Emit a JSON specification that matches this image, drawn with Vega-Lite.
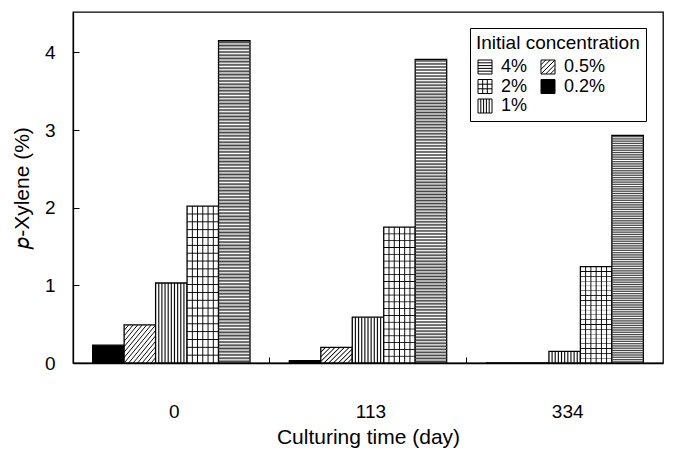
{
  "$schema": "https://vega.github.io/schema/vega-lite/v6.json",
  "width": 590,
  "height": 351,
  "autosize": "none",
  "padding": {"left": 73, "top": 12, "right": 13, "bottom": 94},
  "config": {
    "font": "Liberation Sans",
    "view": {"stroke": "black", "strokeWidth": 1.3},
    "axis": {"domainColor": "black", "domainWidth": 1.3, "tickColor": "black", "tickWidth": 1, "labelColor": "black", "titleColor": "black", "titleFontWeight": "normal", "grid": false}
  },
  "data": {"values": [
    {"day": "0", "conc": "0.2%", "value": 0.23},
    {"day": "0", "conc": "0.5%", "value": 0.49},
    {"day": "0", "conc": "1%", "value": 1.03},
    {"day": "0", "conc": "2%", "value": 2.02},
    {"day": "0", "conc": "4%", "value": 4.15},
    {"day": "113", "conc": "0.2%", "value": 0.03},
    {"day": "113", "conc": "0.5%", "value": 0.2},
    {"day": "113", "conc": "1%", "value": 0.59},
    {"day": "113", "conc": "2%", "value": 1.75},
    {"day": "113", "conc": "4%", "value": 3.91},
    {"day": "334", "conc": "0.2%", "value": 0},
    {"day": "334", "conc": "0.5%", "value": 0},
    {"day": "334", "conc": "1%", "value": 0.15},
    {"day": "334", "conc": "2%", "value": 1.24},
    {"day": "334", "conc": "4%", "value": 2.93}
  ]},
  "encoding": {
    "x": {"field": "day", "type": "nominal", "sort": ["0", "113", "334"],
      "scale": {"paddingInner": 0, "paddingOuter": 0},
      "axis": {"title": "Culturing time (day)", "labelAngle": 0, "bandPosition": 0, "labelOffset": 3, "tickSize": -6, "labelPadding": 45, "labelFontSize": 19, "titleFontSize": 21, "titlePadding": 5}},
    "xOffset": {"field": "conc", "type": "nominal", "scale": {"domain": ["0.2%", "0.5%", "1%", "2%", "4%"], "paddingInner": 0, "paddingOuter": 0.625}},
    "y": {"field": "value", "type": "quantitative", "scale": {"domain": [0, 4.52], "nice": false},
      "axis": {"title": "𝑝-Xylene (%)", "values": [0, 1, 2, 3, 4], "format": "d", "tickSize": -6, "labelPadding": 24, "labelFontSize": 19, "titleFontSize": 21, "titlePadding": 12}}
  },
  "layer": [
    {
      "mark": {"type": "bar", "stroke": "black", "strokeWidth": 1.3},
      "encoding": {
        "fill": {"field": "conc", "type": "nominal",
          "scale": {"domain": ["4%", "2%", "1%", "0.5%", "0.2%"], "range": ["#ffffff", "#ffffff", "#ffffff", "#ffffff", "#000000"]},
          "legend": {
            "title": "Initial concentration",
            "orient": "none", "legendX": 397, "legendY": 16,
            "values": ["4%", "2%", "1%", "0.5%", "0.2%"],
            "columns": 2, "columnPadding": 11, "rowPadding": 1.5,
            "symbolSize": 196, "symbolStrokeColor": "black", "symbolStrokeWidth": 1,
            "labelFontSize": 18, "labelColor": "black", "labelOffset": 7,
            "titleFontSize": 19, "titleFontWeight": "normal", "titleColor": "black", "titlePadding": 5,
            "strokeColor": "black", "fillColor": "white", "padding": 6,
            "encode": {"symbols": {"update": {
              "shape": {"signal": "datum.value === '4%' ? 'M-1,-1H1V1H-1Z M-1,-0.6H1 M-1,-0.2H1 M-1,0.2H1 M-1,0.6H1' : datum.value === '2%' ? 'M-1,-1H1V1H-1Z M-1,-0.33H1 M-1,0.33H1 M-0.33,-1V1 M0.33,-1V1' : datum.value === '1%' ? 'M-1,-1H1V1H-1Z M-0.6,-1V1 M-0.2,-1V1 M0.2,-1V1 M0.6,-1V1' : datum.value === '0.5%' ? 'M-1,-1H1V1H-1Z M-1,-0.33L-0.33,-1 M-1,0.33L0.33,-1 M-1,1L1,-1 M-0.33,1L1,-0.33 M0.33,1L1,0.33' : 'square'"},
              "fill": {"signal": "datum.value === '0.2%' ? 'black' : 'white'"},
              "stroke": {"value": "black"},
              "strokeWidth": {"value": 1},
              "opacity": {"value": 1}
            }}}
          }
        }
      }
    },
    {
      "transform": [{"filter": "datum.conc === '4%'"}],
      "mark": {"type": "bar", "strokeWidth": 0, "fill": {"gradient": "linear", "x1": 0, "y1": 0, "x2": 0, "y2": 1, "stops": [
        {"offset":0,"color":"rgba(0,0,0,0)"},{"offset":0.005,"color":"#444"},{"offset":0.01,"color":"rgba(0,0,0,0)"},{"offset":0.015,"color":"#444"},
        {"offset":0.02,"color":"rgba(0,0,0,0)"},{"offset":0.025,"color":"#444"},{"offset":0.03,"color":"rgba(0,0,0,0)"},{"offset":0.035,"color":"#444"},
        {"offset":0.04,"color":"rgba(0,0,0,0)"},{"offset":0.045,"color":"#444"},{"offset":0.05,"color":"rgba(0,0,0,0)"},{"offset":0.055,"color":"#444"},
        {"offset":0.06,"color":"rgba(0,0,0,0)"},{"offset":0.065,"color":"#444"},{"offset":0.07,"color":"rgba(0,0,0,0)"},{"offset":0.075,"color":"#444"},
        {"offset":0.08,"color":"rgba(0,0,0,0)"},{"offset":0.085,"color":"#444"},{"offset":0.09,"color":"rgba(0,0,0,0)"},{"offset":0.095,"color":"#444"},
        {"offset":0.1,"color":"rgba(0,0,0,0)"},{"offset":0.105,"color":"#444"},{"offset":0.11,"color":"rgba(0,0,0,0)"},{"offset":0.115,"color":"#444"},
        {"offset":0.12,"color":"rgba(0,0,0,0)"},{"offset":0.125,"color":"#444"},{"offset":0.13,"color":"rgba(0,0,0,0)"},{"offset":0.135,"color":"#444"},
        {"offset":0.14,"color":"rgba(0,0,0,0)"},{"offset":0.145,"color":"#444"},{"offset":0.15,"color":"rgba(0,0,0,0)"},{"offset":0.155,"color":"#444"},
        {"offset":0.16,"color":"rgba(0,0,0,0)"},{"offset":0.165,"color":"#444"},{"offset":0.17,"color":"rgba(0,0,0,0)"},{"offset":0.175,"color":"#444"},
        {"offset":0.18,"color":"rgba(0,0,0,0)"},{"offset":0.185,"color":"#444"},{"offset":0.19,"color":"rgba(0,0,0,0)"},{"offset":0.195,"color":"#444"},
        {"offset":0.2,"color":"rgba(0,0,0,0)"},{"offset":0.205,"color":"#444"},{"offset":0.21,"color":"rgba(0,0,0,0)"},{"offset":0.215,"color":"#444"},
        {"offset":0.22,"color":"rgba(0,0,0,0)"},{"offset":0.225,"color":"#444"},{"offset":0.23,"color":"rgba(0,0,0,0)"},{"offset":0.235,"color":"#444"},
        {"offset":0.24,"color":"rgba(0,0,0,0)"},{"offset":0.245,"color":"#444"},{"offset":0.25,"color":"rgba(0,0,0,0)"},{"offset":0.255,"color":"#444"},
        {"offset":0.26,"color":"rgba(0,0,0,0)"},{"offset":0.265,"color":"#444"},{"offset":0.27,"color":"rgba(0,0,0,0)"},{"offset":0.275,"color":"#444"},
        {"offset":0.28,"color":"rgba(0,0,0,0)"},{"offset":0.285,"color":"#444"},{"offset":0.29,"color":"rgba(0,0,0,0)"},{"offset":0.295,"color":"#444"},
        {"offset":0.3,"color":"rgba(0,0,0,0)"},{"offset":0.305,"color":"#444"},{"offset":0.31,"color":"rgba(0,0,0,0)"},{"offset":0.315,"color":"#444"},
        {"offset":0.32,"color":"rgba(0,0,0,0)"},{"offset":0.325,"color":"#444"},{"offset":0.33,"color":"rgba(0,0,0,0)"},{"offset":0.335,"color":"#444"},
        {"offset":0.34,"color":"rgba(0,0,0,0)"},{"offset":0.345,"color":"#444"},{"offset":0.35,"color":"rgba(0,0,0,0)"},{"offset":0.355,"color":"#444"},
        {"offset":0.36,"color":"rgba(0,0,0,0)"},{"offset":0.365,"color":"#444"},{"offset":0.37,"color":"rgba(0,0,0,0)"},{"offset":0.375,"color":"#444"},
        {"offset":0.38,"color":"rgba(0,0,0,0)"},{"offset":0.385,"color":"#444"},{"offset":0.39,"color":"rgba(0,0,0,0)"},{"offset":0.395,"color":"#444"},
        {"offset":0.4,"color":"rgba(0,0,0,0)"},{"offset":0.405,"color":"#444"},{"offset":0.41,"color":"rgba(0,0,0,0)"},{"offset":0.415,"color":"#444"},
        {"offset":0.42,"color":"rgba(0,0,0,0)"},{"offset":0.425,"color":"#444"},{"offset":0.43,"color":"rgba(0,0,0,0)"},{"offset":0.435,"color":"#444"},
        {"offset":0.44,"color":"rgba(0,0,0,0)"},{"offset":0.445,"color":"#444"},{"offset":0.45,"color":"rgba(0,0,0,0)"},{"offset":0.455,"color":"#444"},
        {"offset":0.46,"color":"rgba(0,0,0,0)"},{"offset":0.465,"color":"#444"},{"offset":0.47,"color":"rgba(0,0,0,0)"},{"offset":0.475,"color":"#444"},
        {"offset":0.48,"color":"rgba(0,0,0,0)"},{"offset":0.485,"color":"#444"},{"offset":0.49,"color":"rgba(0,0,0,0)"},{"offset":0.495,"color":"#444"},
        {"offset":0.5,"color":"rgba(0,0,0,0)"},{"offset":0.505,"color":"#444"},{"offset":0.51,"color":"rgba(0,0,0,0)"},{"offset":0.515,"color":"#444"},
        {"offset":0.52,"color":"rgba(0,0,0,0)"},{"offset":0.525,"color":"#444"},{"offset":0.53,"color":"rgba(0,0,0,0)"},{"offset":0.535,"color":"#444"},
        {"offset":0.54,"color":"rgba(0,0,0,0)"},{"offset":0.545,"color":"#444"},{"offset":0.55,"color":"rgba(0,0,0,0)"},{"offset":0.555,"color":"#444"},
        {"offset":0.56,"color":"rgba(0,0,0,0)"},{"offset":0.565,"color":"#444"},{"offset":0.57,"color":"rgba(0,0,0,0)"},{"offset":0.575,"color":"#444"},
        {"offset":0.58,"color":"rgba(0,0,0,0)"},{"offset":0.585,"color":"#444"},{"offset":0.59,"color":"rgba(0,0,0,0)"},{"offset":0.595,"color":"#444"},
        {"offset":0.6,"color":"rgba(0,0,0,0)"},{"offset":0.605,"color":"#444"},{"offset":0.61,"color":"rgba(0,0,0,0)"},{"offset":0.615,"color":"#444"},
        {"offset":0.62,"color":"rgba(0,0,0,0)"},{"offset":0.625,"color":"#444"},{"offset":0.63,"color":"rgba(0,0,0,0)"},{"offset":0.635,"color":"#444"},
        {"offset":0.64,"color":"rgba(0,0,0,0)"},{"offset":0.645,"color":"#444"},{"offset":0.65,"color":"rgba(0,0,0,0)"},{"offset":0.655,"color":"#444"},
        {"offset":0.66,"color":"rgba(0,0,0,0)"},{"offset":0.665,"color":"#444"},{"offset":0.67,"color":"rgba(0,0,0,0)"},{"offset":0.675,"color":"#444"},
        {"offset":0.68,"color":"rgba(0,0,0,0)"},{"offset":0.685,"color":"#444"},{"offset":0.69,"color":"rgba(0,0,0,0)"},{"offset":0.695,"color":"#444"},
        {"offset":0.7,"color":"rgba(0,0,0,0)"},{"offset":0.705,"color":"#444"},{"offset":0.71,"color":"rgba(0,0,0,0)"},{"offset":0.715,"color":"#444"},
        {"offset":0.72,"color":"rgba(0,0,0,0)"},{"offset":0.725,"color":"#444"},{"offset":0.73,"color":"rgba(0,0,0,0)"},{"offset":0.735,"color":"#444"},
        {"offset":0.74,"color":"rgba(0,0,0,0)"},{"offset":0.745,"color":"#444"},{"offset":0.75,"color":"rgba(0,0,0,0)"},{"offset":0.755,"color":"#444"},
        {"offset":0.76,"color":"rgba(0,0,0,0)"},{"offset":0.765,"color":"#444"},{"offset":0.77,"color":"rgba(0,0,0,0)"},{"offset":0.775,"color":"#444"},
        {"offset":0.78,"color":"rgba(0,0,0,0)"},{"offset":0.785,"color":"#444"},{"offset":0.79,"color":"rgba(0,0,0,0)"},{"offset":0.795,"color":"#444"},
        {"offset":0.8,"color":"rgba(0,0,0,0)"},{"offset":0.805,"color":"#444"},{"offset":0.81,"color":"rgba(0,0,0,0)"},{"offset":0.815,"color":"#444"},
        {"offset":0.82,"color":"rgba(0,0,0,0)"},{"offset":0.825,"color":"#444"},{"offset":0.83,"color":"rgba(0,0,0,0)"},{"offset":0.835,"color":"#444"},
        {"offset":0.84,"color":"rgba(0,0,0,0)"},{"offset":0.845,"color":"#444"},{"offset":0.85,"color":"rgba(0,0,0,0)"},{"offset":0.855,"color":"#444"},
        {"offset":0.86,"color":"rgba(0,0,0,0)"},{"offset":0.865,"color":"#444"},{"offset":0.87,"color":"rgba(0,0,0,0)"},{"offset":0.875,"color":"#444"},
        {"offset":0.88,"color":"rgba(0,0,0,0)"},{"offset":0.885,"color":"#444"},{"offset":0.89,"color":"rgba(0,0,0,0)"},{"offset":0.895,"color":"#444"},
        {"offset":0.9,"color":"rgba(0,0,0,0)"},{"offset":0.905,"color":"#444"},{"offset":0.91,"color":"rgba(0,0,0,0)"},{"offset":0.915,"color":"#444"},
        {"offset":0.92,"color":"rgba(0,0,0,0)"},{"offset":0.925,"color":"#444"},{"offset":0.93,"color":"rgba(0,0,0,0)"},{"offset":0.935,"color":"#444"},
        {"offset":0.94,"color":"rgba(0,0,0,0)"},{"offset":0.945,"color":"#444"},{"offset":0.95,"color":"rgba(0,0,0,0)"},{"offset":0.955,"color":"#444"},
        {"offset":0.96,"color":"rgba(0,0,0,0)"},{"offset":0.965,"color":"#444"},{"offset":0.97,"color":"rgba(0,0,0,0)"},{"offset":0.975,"color":"#444"},
        {"offset":0.98,"color":"rgba(0,0,0,0)"},{"offset":0.985,"color":"#444"},{"offset":0.99,"color":"rgba(0,0,0,0)"},{"offset":0.995,"color":"#444"},
        {"offset":1,"color":"rgba(0,0,0,0)"}
      ]}}
    },
    {
      "transform": [{"filter": "datum.conc === '2%'"}],
      "mark": {"type": "bar", "strokeWidth": 0, "fill": {"gradient": "linear", "x1": 0, "y1": 0, "x2": 0, "y2": 1, "stops": [
        {"offset":0,"color":"rgba(0,0,0,0)"},
        {"offset":0.044,"color":"rgba(0,0,0,0)"},{"offset":0.05,"color":"#000"},{"offset":0.056,"color":"rgba(0,0,0,0)"},
        {"offset":0.094,"color":"rgba(0,0,0,0)"},{"offset":0.1,"color":"#000"},{"offset":0.106,"color":"rgba(0,0,0,0)"},
        {"offset":0.144,"color":"rgba(0,0,0,0)"},{"offset":0.15,"color":"#000"},{"offset":0.156,"color":"rgba(0,0,0,0)"},
        {"offset":0.194,"color":"rgba(0,0,0,0)"},{"offset":0.2,"color":"#000"},{"offset":0.206,"color":"rgba(0,0,0,0)"},
        {"offset":0.244,"color":"rgba(0,0,0,0)"},{"offset":0.25,"color":"#000"},{"offset":0.256,"color":"rgba(0,0,0,0)"},
        {"offset":0.294,"color":"rgba(0,0,0,0)"},{"offset":0.3,"color":"#000"},{"offset":0.306,"color":"rgba(0,0,0,0)"},
        {"offset":0.344,"color":"rgba(0,0,0,0)"},{"offset":0.35,"color":"#000"},{"offset":0.356,"color":"rgba(0,0,0,0)"},
        {"offset":0.394,"color":"rgba(0,0,0,0)"},{"offset":0.4,"color":"#000"},{"offset":0.406,"color":"rgba(0,0,0,0)"},
        {"offset":0.444,"color":"rgba(0,0,0,0)"},{"offset":0.45,"color":"#000"},{"offset":0.456,"color":"rgba(0,0,0,0)"},
        {"offset":0.494,"color":"rgba(0,0,0,0)"},{"offset":0.5,"color":"#000"},{"offset":0.506,"color":"rgba(0,0,0,0)"},
        {"offset":0.544,"color":"rgba(0,0,0,0)"},{"offset":0.55,"color":"#000"},{"offset":0.556,"color":"rgba(0,0,0,0)"},
        {"offset":0.594,"color":"rgba(0,0,0,0)"},{"offset":0.6,"color":"#000"},{"offset":0.606,"color":"rgba(0,0,0,0)"},
        {"offset":0.644,"color":"rgba(0,0,0,0)"},{"offset":0.65,"color":"#000"},{"offset":0.656,"color":"rgba(0,0,0,0)"},
        {"offset":0.694,"color":"rgba(0,0,0,0)"},{"offset":0.7,"color":"#000"},{"offset":0.706,"color":"rgba(0,0,0,0)"},
        {"offset":0.744,"color":"rgba(0,0,0,0)"},{"offset":0.75,"color":"#000"},{"offset":0.756,"color":"rgba(0,0,0,0)"},
        {"offset":0.794,"color":"rgba(0,0,0,0)"},{"offset":0.8,"color":"#000"},{"offset":0.806,"color":"rgba(0,0,0,0)"},
        {"offset":0.844,"color":"rgba(0,0,0,0)"},{"offset":0.85,"color":"#000"},{"offset":0.856,"color":"rgba(0,0,0,0)"},
        {"offset":0.894,"color":"rgba(0,0,0,0)"},{"offset":0.9,"color":"#000"},{"offset":0.906,"color":"rgba(0,0,0,0)"},
        {"offset":0.944,"color":"rgba(0,0,0,0)"},{"offset":0.95,"color":"#000"},{"offset":0.956,"color":"rgba(0,0,0,0)"},
        {"offset":1,"color":"rgba(0,0,0,0)"}
      ]}}
    },
    {
      "transform": [{"filter": "datum.conc === '2%'"}],
      "mark": {"type": "bar", "strokeWidth": 0, "fill": {"gradient": "linear", "x1": 0, "y1": 0, "x2": 1, "y2": 0, "stops": [
        {"offset":0,"color":"rgba(0,0,0,0)"},
        {"offset":0.1367,"color":"rgba(0,0,0,0)"},{"offset":0.1667,"color":"#000"},{"offset":0.1967,"color":"rgba(0,0,0,0)"},
        {"offset":0.3033,"color":"rgba(0,0,0,0)"},{"offset":0.3333,"color":"#000"},{"offset":0.3633,"color":"rgba(0,0,0,0)"},
        {"offset":0.47,"color":"rgba(0,0,0,0)"},{"offset":0.5,"color":"#000"},{"offset":0.53,"color":"rgba(0,0,0,0)"},
        {"offset":0.6367,"color":"rgba(0,0,0,0)"},{"offset":0.6667,"color":"#000"},{"offset":0.6967,"color":"rgba(0,0,0,0)"},
        {"offset":0.8033,"color":"rgba(0,0,0,0)"},{"offset":0.8333,"color":"#000"},{"offset":0.8633,"color":"rgba(0,0,0,0)"},
        {"offset":1,"color":"rgba(0,0,0,0)"}
      ]}}
    },
    {
      "transform": [{"filter": "datum.conc === '1%'"}],
      "mark": {"type": "bar", "strokeWidth": 0, "fill": {"gradient": "linear", "x1": 0, "y1": 0, "x2": 1, "y2": 0, "stops": [
        {"offset":0,"color":"rgba(0,0,0,0)"},
        {"offset":0.065,"color":"rgba(0,0,0,0)"},{"offset":0.1,"color":"#000"},{"offset":0.135,"color":"rgba(0,0,0,0)"},
        {"offset":0.165,"color":"rgba(0,0,0,0)"},{"offset":0.2,"color":"#000"},{"offset":0.235,"color":"rgba(0,0,0,0)"},
        {"offset":0.265,"color":"rgba(0,0,0,0)"},{"offset":0.3,"color":"#000"},{"offset":0.335,"color":"rgba(0,0,0,0)"},
        {"offset":0.365,"color":"rgba(0,0,0,0)"},{"offset":0.4,"color":"#000"},{"offset":0.435,"color":"rgba(0,0,0,0)"},
        {"offset":0.465,"color":"rgba(0,0,0,0)"},{"offset":0.5,"color":"#000"},{"offset":0.535,"color":"rgba(0,0,0,0)"},
        {"offset":0.565,"color":"rgba(0,0,0,0)"},{"offset":0.6,"color":"#000"},{"offset":0.635,"color":"rgba(0,0,0,0)"},
        {"offset":0.665,"color":"rgba(0,0,0,0)"},{"offset":0.7,"color":"#000"},{"offset":0.735,"color":"rgba(0,0,0,0)"},
        {"offset":0.765,"color":"rgba(0,0,0,0)"},{"offset":0.8,"color":"#000"},{"offset":0.835,"color":"rgba(0,0,0,0)"},
        {"offset":0.865,"color":"rgba(0,0,0,0)"},{"offset":0.9,"color":"#000"},{"offset":0.935,"color":"rgba(0,0,0,0)"},
        {"offset":1,"color":"rgba(0,0,0,0)"}
      ]}}
    },
    {
      "transform": [{"filter": "datum.conc === '0.5%' && datum.day === '0'"}],
      "mark": {"type": "bar", "strokeWidth": 0, "fill": {"gradient": "linear", "x1": 0, "y1": 0, "x2": 1, "y2": 1, "stops": [
        {"offset":0,"color":"rgba(0,0,0,0)"},
        {"offset":0.0564,"color":"rgba(0,0,0,0)"},{"offset":0.0714,"color":"#000"},{"offset":0.0864,"color":"rgba(0,0,0,0)"},
        {"offset":0.1279,"color":"rgba(0,0,0,0)"},{"offset":0.1429,"color":"#000"},{"offset":0.1579,"color":"rgba(0,0,0,0)"},
        {"offset":0.1993,"color":"rgba(0,0,0,0)"},{"offset":0.2143,"color":"#000"},{"offset":0.2293,"color":"rgba(0,0,0,0)"},
        {"offset":0.2707,"color":"rgba(0,0,0,0)"},{"offset":0.2857,"color":"#000"},{"offset":0.3007,"color":"rgba(0,0,0,0)"},
        {"offset":0.3421,"color":"rgba(0,0,0,0)"},{"offset":0.3571,"color":"#000"},{"offset":0.3721,"color":"rgba(0,0,0,0)"},
        {"offset":0.4136,"color":"rgba(0,0,0,0)"},{"offset":0.4286,"color":"#000"},{"offset":0.4436,"color":"rgba(0,0,0,0)"},
        {"offset":0.485,"color":"rgba(0,0,0,0)"},{"offset":0.5,"color":"#000"},{"offset":0.515,"color":"rgba(0,0,0,0)"},
        {"offset":0.5564,"color":"rgba(0,0,0,0)"},{"offset":0.5714,"color":"#000"},{"offset":0.5864,"color":"rgba(0,0,0,0)"},
        {"offset":0.6279,"color":"rgba(0,0,0,0)"},{"offset":0.6429,"color":"#000"},{"offset":0.6579,"color":"rgba(0,0,0,0)"},
        {"offset":0.6993,"color":"rgba(0,0,0,0)"},{"offset":0.7143,"color":"#000"},{"offset":0.7293,"color":"rgba(0,0,0,0)"},
        {"offset":0.7707,"color":"rgba(0,0,0,0)"},{"offset":0.7857,"color":"#000"},{"offset":0.8007,"color":"rgba(0,0,0,0)"},
        {"offset":0.8421,"color":"rgba(0,0,0,0)"},{"offset":0.8571,"color":"#000"},{"offset":0.8721,"color":"rgba(0,0,0,0)"},
        {"offset":0.9136,"color":"rgba(0,0,0,0)"},{"offset":0.9286,"color":"#000"},{"offset":0.9436,"color":"rgba(0,0,0,0)"},
        {"offset":1,"color":"rgba(0,0,0,0)"}
      ]}}
    },
    {
      "transform": [{"filter": "datum.conc === '0.5%' && datum.day !== '0'"}],
      "mark": {"type": "bar", "strokeWidth": 0, "fill": {"gradient": "linear", "x1": 0, "y1": 0, "x2": 1.2, "y2": 0.6, "stops": [
        {"offset":0,"color":"rgba(0,0,0,0)"},
        {"offset":0.075,"color":"rgba(0,0,0,0)"},{"offset":0.1,"color":"#000"},{"offset":0.125,"color":"rgba(0,0,0,0)"},
        {"offset":0.175,"color":"rgba(0,0,0,0)"},{"offset":0.2,"color":"#000"},{"offset":0.225,"color":"rgba(0,0,0,0)"},
        {"offset":0.275,"color":"rgba(0,0,0,0)"},{"offset":0.3,"color":"#000"},{"offset":0.325,"color":"rgba(0,0,0,0)"},
        {"offset":0.375,"color":"rgba(0,0,0,0)"},{"offset":0.4,"color":"#000"},{"offset":0.425,"color":"rgba(0,0,0,0)"},
        {"offset":0.475,"color":"rgba(0,0,0,0)"},{"offset":0.5,"color":"#000"},{"offset":0.525,"color":"rgba(0,0,0,0)"},
        {"offset":0.575,"color":"rgba(0,0,0,0)"},{"offset":0.6,"color":"#000"},{"offset":0.625,"color":"rgba(0,0,0,0)"},
        {"offset":0.675,"color":"rgba(0,0,0,0)"},{"offset":0.7,"color":"#000"},{"offset":0.725,"color":"rgba(0,0,0,0)"},
        {"offset":0.775,"color":"rgba(0,0,0,0)"},{"offset":0.8,"color":"#000"},{"offset":0.825,"color":"rgba(0,0,0,0)"},
        {"offset":0.875,"color":"rgba(0,0,0,0)"},{"offset":0.9,"color":"#000"},{"offset":0.925,"color":"rgba(0,0,0,0)"},
        {"offset":1,"color":"rgba(0,0,0,0)"}
      ]}}
    }
  ]
}
